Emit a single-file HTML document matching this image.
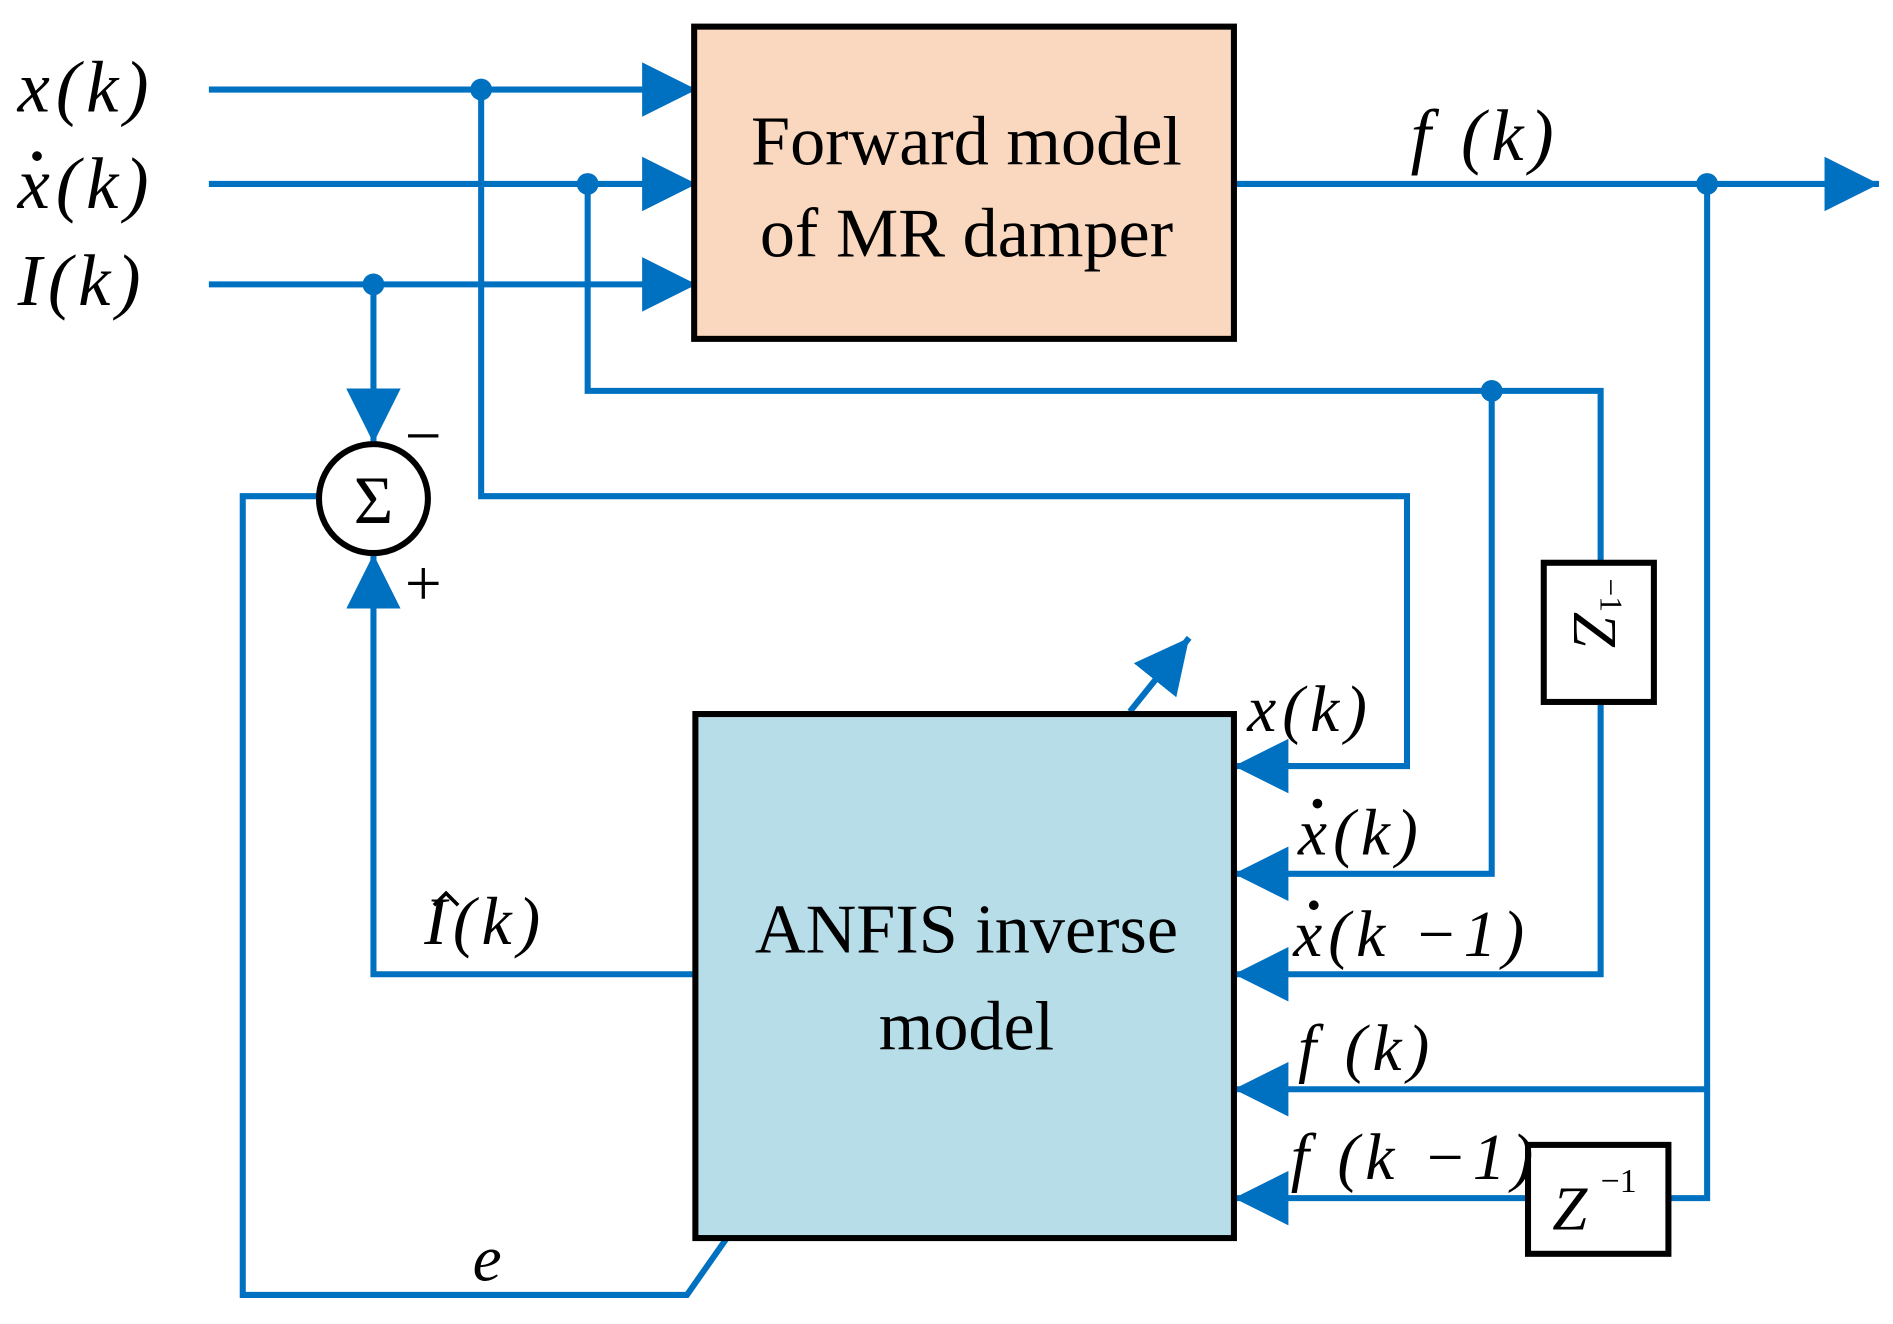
<!DOCTYPE html>
<html><head><meta charset="utf-8"><style>html,body{margin:0;padding:0;background:#fff}svg{display:block}</style></head>
<body>
<svg width="1893" height="1324" viewBox="0 0 1563 1094" xmlns="http://www.w3.org/2000/svg">
<defs>
<marker id="a" viewBox="0 0 10 10" refX="10" refY="5" markerWidth="9" markerHeight="9" markerUnits="strokeWidth" orient="auto"><path d="M0,0 L10,5 L0,10 z" fill="#0070C0"/></marker>
</defs>
<g stroke="#0070C0" stroke-width="5" fill="none">
<line x1="172" y1="74" x2="575" y2="74" marker-end="url(#a)"/>
<line x1="172" y1="152" x2="575" y2="152" marker-end="url(#a)"/>
<line x1="172" y1="235" x2="575" y2="235" marker-end="url(#a)"/>
<line x1="1019" y1="152" x2="1552" y2="152" marker-end="url(#a)"/>
<line x1="308" y1="235" x2="308" y2="366" marker-end="url(#a)"/>
<polyline points="485,152 485,323 1322,323 1322,467"/>
<polyline points="1322,580 1322,805 1019,805" marker-end="url(#a)"/>
<polyline points="1232,323 1232,722 1019,722" marker-end="url(#a)"/>
<polyline points="397,74 397,410 1162,410 1162,633 1019,633" marker-end="url(#a)"/>
<polyline points="1410,152 1410,990 1378,990"/>
<line x1="1262" y1="990" x2="1019" y2="990" marker-end="url(#a)"/>
<line x1="1410" y1="900" x2="1019" y2="900" marker-end="url(#a)"/>
<polyline points="574,805 308,805 308,458" marker-end="url(#a)"/>
<polyline points="600,1023 567,1070 200,1070 200,410 263,410"/>
<line x1="933" y1="588" x2="982" y2="527" marker-end="url(#a)"/>
</g>
<g fill="#0070C0">
<circle cx="397" cy="74" r="9"/><circle cx="485" cy="152" r="9"/><circle cx="308" cy="235" r="9"/>
<circle cx="1410" cy="152" r="9"/><circle cx="1232" cy="323" r="9"/>
</g>
<rect x="573" y="22" width="446" height="258" fill="#F9D8BF" stroke="#000" stroke-width="5"/>
<rect x="574" y="590" width="445" height="433" fill="#B7DDE8" stroke="#000" stroke-width="5"/>
<circle cx="308" cy="412" r="45" fill="#fff" stroke="#000" stroke-width="5"/>
<rect x="1275" y="465" width="91" height="115" fill="#fff" stroke="#000" stroke-width="5"/>
<rect x="1262" y="946" width="116" height="90" fill="#fff" stroke="#000" stroke-width="5"/>
<g fill="#000">
<circle cx="30" cy="129" r="4"/>
<circle cx="1088" cy="664" r="4"/>
<circle cx="1085" cy="748" r="4"/>
<path d="M358,748 L368,738 L378,748" stroke="#000" stroke-width="3" fill="none"/>
</g>
<g font-family="Liberation Serif, serif" font-size="58" fill="#000">
<text x="798" y="136" text-anchor="middle">Forward model</text>
<text x="798" y="212" text-anchor="middle">of MR damper</text>
<text x="798" y="787" text-anchor="middle">ANFIS inverse</text>
<text x="798" y="867" text-anchor="middle">model</text>
<text x="308" y="432" text-anchor="middle" font-size="56">Σ</text>
<text x="334" y="378" font-size="54">−</text>
<text x="334" y="500" font-size="54">+</text>
<g font-style="italic" font-size="60" letter-spacing="5">
<text x="14" y="92">x(k)</text>
<text x="14" y="172">x(k)</text>
<text x="14" y="252">I(k)</text>
<text x="1165" y="132">f (k)</text>
<text x="1030" y="604" font-size="54">x(k)</text>
<text x="1072" y="706" font-size="54">x(k)</text>
<text x="1068" y="790" font-size="54">x(k −1)</text>
<text x="1072" y="884" font-size="54">f (k)</text>
<text x="1066" y="974" font-size="54">f (k −1)</text>
<text x="350" y="780" font-size="56">I(k)</text>
<text x="390" y="1058" font-size="54">e</text>
<text x="1282" y="1016" font-size="52" letter-spacing="0">Z</text>
</g>
<text x="1322" y="985" font-size="28">−1</text>
<g transform="translate(1300,520) rotate(90)">
<text x="0" y="0" font-size="52" font-style="italic" text-anchor="middle">Z</text>
<text x="-42" y="-22" font-size="26">−1</text>
</g>
</g>
</svg>
</body></html>
